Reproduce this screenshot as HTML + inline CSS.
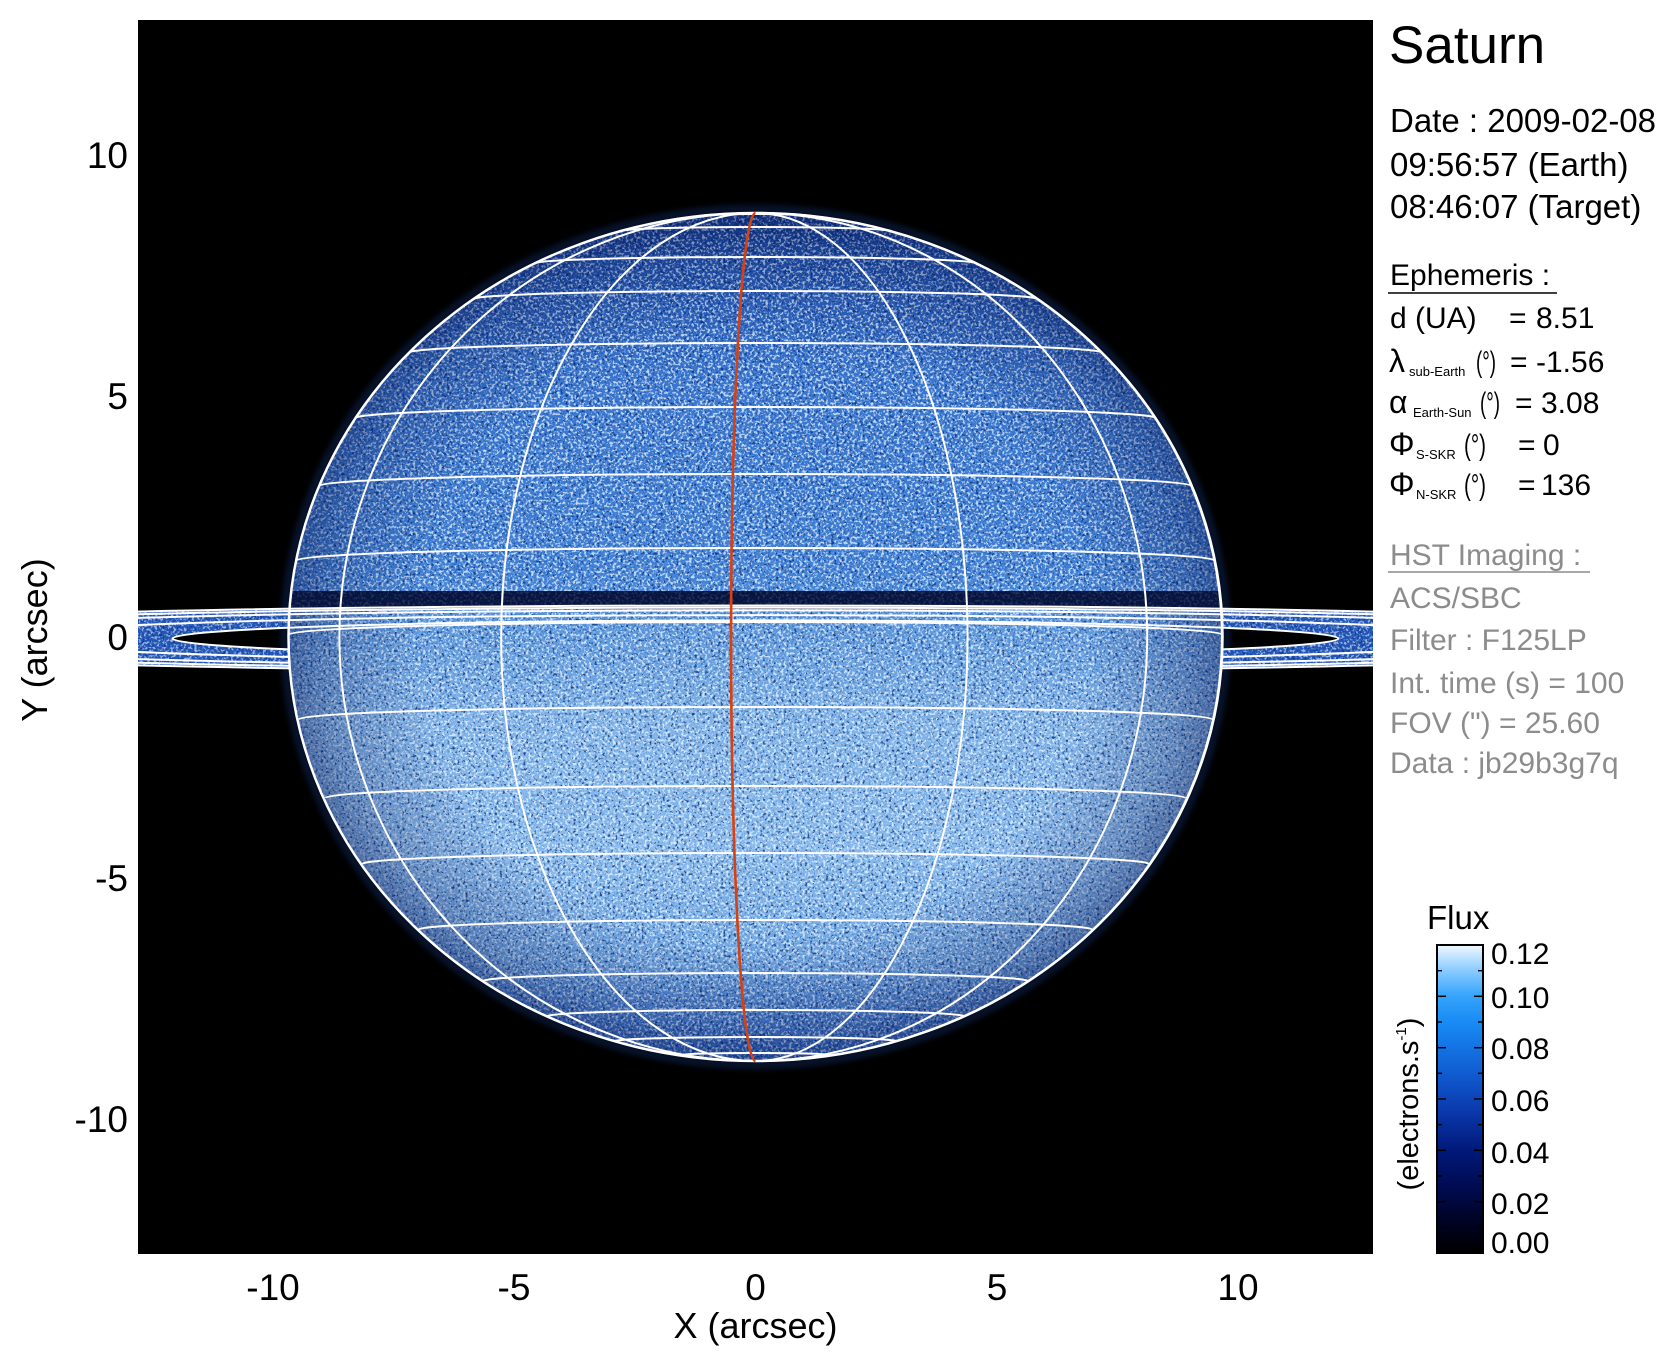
<!DOCTYPE html>
<html>
<head>
<meta charset="utf-8">
<style>
  html,body{margin:0;padding:0;background:#fff;}
  svg{display:block;}
  text{font-family:"Liberation Sans",Arial,sans-serif;}
</style>
</head>
<body>
<svg width="1676" height="1367" viewBox="0 0 1676 1367" xmlns="http://www.w3.org/2000/svg">
  <defs>
    <clipPath id="plot"><rect x="138" y="20" width="1235" height="1234"/></clipPath>
    <clipPath id="pc"><ellipse cx="755.5" cy="637" rx="467" ry="424"/></clipPath>
    <clipPath id="ringc">
      <path clip-rule="evenodd" d="M -308.5,638.5 A 1064,33 0 1 0 1819.5,638.5 A 1064,33 0 1 0 -308.5,638.5 Z M 172.5,638.5 A 583,18.1 0 1 0 1338.5,638.5 A 583,18.1 0 1 0 172.5,638.5 Z"/>
    </clipPath>
    <mask id="noplanet">
      <rect x="0" y="0" width="1676" height="1367" fill="#fff"/>
      <ellipse cx="755.5" cy="637" rx="467" ry="424" fill="#000"/>
    </mask>
    <linearGradient id="pgrad" x1="0" y1="0" x2="0" y2="1">
      <stop offset="0" stop-color="#163f95"/>
      <stop offset="0.06" stop-color="#2458b5"/>
      <stop offset="0.2" stop-color="#3876d0"/>
      <stop offset="0.42" stop-color="#3f80d6"/>
      <stop offset="0.5" stop-color="#5e99de"/>
      <stop offset="0.6" stop-color="#7eb2e9"/>
      <stop offset="0.75" stop-color="#86b9ed"/>
      <stop offset="0.88" stop-color="#6ea6e3"/>
      <stop offset="1" stop-color="#3068c4"/>
    </linearGradient>
    <radialGradient id="limb" cx="0.5" cy="0.5" r="0.5">
      <stop offset="0" stop-color="#001050" stop-opacity="0"/>
      <stop offset="0.72" stop-color="#001050" stop-opacity="0"/>
      <stop offset="0.93" stop-color="#001050" stop-opacity="0.28"/>
      <stop offset="1" stop-color="#001050" stop-opacity="0.45"/>
    </radialGradient>
    <linearGradient id="cbar" x1="0" y1="1" x2="0" y2="0">
      <stop offset="0" stop-color="#000000"/>
      <stop offset="0.1" stop-color="#000322"/>
      <stop offset="0.2" stop-color="#000a4c"/>
      <stop offset="0.33" stop-color="#001878"/>
      <stop offset="0.45" stop-color="#0a36a8"/>
      <stop offset="0.55" stop-color="#0f52c8"/>
      <stop offset="0.67" stop-color="#1474e4"/>
      <stop offset="0.76" stop-color="#1a8ef6"/>
      <stop offset="0.84" stop-color="#3aa6fc"/>
      <stop offset="0.92" stop-color="#8cccff"/>
      <stop offset="1" stop-color="#f2f8ff"/>
    </linearGradient>
    <filter id="spk" x="0%" y="0%" width="100%" height="100%" color-interpolation-filters="sRGB">
      <feTurbulence type="fractalNoise" baseFrequency="0.38" numOctaves="2" seed="7" result="n"/>
      <feColorMatrix in="n" type="matrix" values="0 0 0 0 0.92  0 0 0 0 0.97  0 0 0 0 1  6 0 0 0 -3.0" result="w"/>
      <feColorMatrix in="n" type="matrix" values="0 0 0 0 0.03  0 0 0 0 0.14  0 0 0 0 0.42  0 -6 0 0 2.65" result="d"/>
      <feMerge><feMergeNode in="d"/><feMergeNode in="w"/></feMerge>
    </filter>
    <filter id="blur3" x="-10%" y="-10%" width="120%" height="120%"><feGaussianBlur stdDeviation="3"/></filter>
  </defs>

  <!-- plot background -->
  <rect x="138" y="20" width="1235" height="1234" fill="#000"/>

  <g clip-path="url(#plot)">
    <!-- faint halo -->
    <ellipse cx="755.5" cy="637" rx="471" ry="428" fill="none" stroke="#1a46a0" stroke-width="8" opacity="0.3" filter="url(#blur3)"/>

    <!-- ring fill -->
    <g clip-path="url(#ringc)">
      <rect x="138" y="600" width="1235" height="80" fill="#2054b6"/>
      <rect x="138" y="600" width="1235" height="80" filter="url(#spk)" opacity="0.6"/>
    </g>

    <!-- planet -->
    <g clip-path="url(#pc)">
      <rect x="288" y="213" width="935" height="848" fill="url(#pgrad)"/>
      <rect x="288" y="213" width="935" height="848" filter="url(#spk)" opacity="0.75"/>
      <ellipse cx="755.5" cy="637" rx="467" ry="424" fill="url(#limb)"/>
      <!-- ring shadow band -->
      <rect x="280" y="591" width="950" height="18" fill="#061440"/>
      <rect x="280" y="591" width="950" height="18" filter="url(#spk)" opacity="0.12"/>
    </g>

    <!-- lower (hidden) halves of ring ellipses -->
    <g fill="none" stroke="#fff" stroke-width="2" mask="url(#noplanet)">
      <path d="M -308.5,638.5 A 1064,33 0 0 0 1819.5,638.5"/>
      <path d="M -241.5,638.5 A 997,30.9 0 0 0 1752.5,638.5"/>
      <path d="M -152.5,638.5 A 908,28.1 0 0 0 1663.5,638.5"/>
      <path d="M 1.5,638.5 A 754,23.4 0 0 0 1509.5,638.5"/>
      <path d="M 172.5,638.5 A 583,18.1 0 0 0 1338.5,638.5"/>
    </g>

    <!-- latitude lines -->
    <g fill="none" stroke="#fff" stroke-width="2">
      <path d="M 698.4,216.2 A 57.1,2.2 0 0 1 812.6,216.2"/>
      <path d="M 619.7,231.3 A 135.8,4.3 0 0 1 891.3,231.3"/>
      <path d="M 534.7,263.4 A 220.8,6.35 0 0 1 976.3,263.4"/>
      <path d="M 473.2,299.2 A 282.3,8.2 0 0 1 1037.8,299.2"/>
      <path d="M 409,352.7 A 346.5,9.7 0 0 1 1102,352.7"/>
      <path d="M 355.6,418 A 399.9,11 0 0 1 1155.4,418"/>
      <path d="M 319.2,485.9 A 436.3,11.9 0 0 1 1191.8,485.9"/>
      <path d="M 296.2,560.5 A 459.3,12.5 0 0 1 1214.8,560.5"/>
      <path d="M 288.5,634.7 A 467,12.7 0 0 1 1222.5,634.7"/>
      <path d="M 298.3,719.5 A 457.2,12.5 0 0 1 1212.7,719.5"/>
      <path d="M 325.7,797.9 A 429.8,11.9 0 0 1 1185.3,797.9"/>
      <path d="M 362.5,864 A 393,11 0 0 1 1148.5,864"/>
      <path d="M 418.7,929.7 A 336.8,9.7 0 0 1 1092.3,929.7"/>
      <path d="M 482.8,981.2 A 272.7,8.2 0 0 1 1028.2,981.2"/>
      <path d="M 547,1016.4 A 208.5,6.35 0 0 1 964,1016.4"/>
      <path d="M 614.8,1041.3 A 140.7,4.3 0 0 1 896.2,1041.3"/>
      <path d="M 678.5,1055.2 A 77,2.2 0 0 1 832.5,1055.2"/>
    </g>

    <!-- meridians -->
    <g fill="none" stroke="#fff" stroke-width="2">
      <path d="M 755.5,213 A 416.1,424 0 0 0 755.5,1061"/>
      <path d="M 755.5,213 A 254.3,424 0 0 0 755.5,1061"/>
      <path d="M 755.5,213 A 212,424 0 0 1 755.5,1061"/>
      <path d="M 755.5,213 A 391.7,424 0 0 1 755.5,1061"/>
      <path d="M 755.5,213 A 466.4,424 0 0 1 755.5,1061"/>
    </g>

    <!-- planet limb -->
    <ellipse cx="755.5" cy="637" rx="467" ry="424" fill="none" stroke="#fff" stroke-width="2.5"/>

    <!-- upper (front) halves of ring ellipses -->
    <g fill="none" stroke="#fff" stroke-width="2">
      <path d="M -308.5,638.5 A 1064,33 0 0 1 1819.5,638.5"/>
      <path d="M -241.5,638.5 A 997,30.9 0 0 1 1752.5,638.5"/>
      <path d="M -152.5,638.5 A 908,28.1 0 0 1 1663.5,638.5"/>
      <path d="M 1.5,638.5 A 754,23.4 0 0 1 1509.5,638.5"/>
      <path d="M 172.5,638.5 A 583,18.1 0 0 1 1338.5,638.5"/>
    </g>

    <!-- red meridian -->
    <path d="M 755.5,213 A 24.4,424 0 0 0 755.5,1061" fill="none" stroke="#d8400e" stroke-width="2.6"/>
  </g>

  <!-- axis tick labels -->
  <g font-size="37" fill="#000">
    <text x="128" y="168" text-anchor="end">10</text>
    <text x="128" y="409" text-anchor="end">5</text>
    <text x="128" y="650" text-anchor="end">0</text>
    <text x="128" y="891" text-anchor="end">-5</text>
    <text x="128" y="1132" text-anchor="end">-10</text>

    <text x="273" y="1300" text-anchor="middle">-10</text>
    <text x="514" y="1300" text-anchor="middle">-5</text>
    <text x="755.5" y="1300" text-anchor="middle">0</text>
    <text x="997" y="1300" text-anchor="middle">5</text>
    <text x="1238" y="1300" text-anchor="middle">10</text>
  </g>
  <text x="755.5" y="1338" text-anchor="middle" font-size="36">X (arcsec)</text>
  <text transform="translate(47,640) rotate(-90)" text-anchor="middle" font-size="36">Y (arcsec)</text>

  <!-- right panel -->
  <text x="1389" y="63" font-size="53">Saturn</text>
  <g font-size="33">
    <text x="1390" y="132">Date : 2009-02-08</text>
    <text x="1390" y="176">09:56:57 (Earth)</text>
    <text x="1390" y="218">08:46:07 (Target)</text>
  </g>

  <g font-size="30" fill="#000">
    <text x="1390" y="285">Ephemeris :</text>
    <line x1="1388" y1="293" x2="1557" y2="293" stroke="#000" stroke-width="1.5"/>

    <text x="1390" y="328">d (UA)</text>
    <text x="1509" y="328">=</text>
    <text x="1536" y="328">8.51</text>

    <text x="1389" y="372" font-size="32">λ</text>
    <text x="1409" y="376" font-size="13">sub-Earth</text>
    <text x="1476" y="372" textLength="20" lengthAdjust="spacingAndGlyphs">(°)</text>
    <text x="1510" y="372">=</text>
    <text x="1536" y="372">-1.56</text>

    <text x="1389" y="413" font-size="32">α</text>
    <text x="1413" y="417" font-size="13">Earth-Sun</text>
    <text x="1480" y="413" textLength="20" lengthAdjust="spacingAndGlyphs">(°)</text>
    <text x="1515" y="413">=</text>
    <text x="1541" y="413">3.08</text>

    <text x="1389" y="455" font-size="32">Φ</text>
    <text x="1416" y="459" font-size="13">S-SKR</text>
    <text x="1464" y="455" textLength="22" lengthAdjust="spacingAndGlyphs">(°)</text>
    <text x="1518" y="455">=</text>
    <text x="1543" y="455">0</text>

    <text x="1389" y="495" font-size="32">Φ</text>
    <text x="1416" y="499" font-size="13">N-SKR</text>
    <text x="1464" y="495" textLength="22" lengthAdjust="spacingAndGlyphs">(°)</text>
    <text x="1518" y="495">=</text>
    <text x="1541" y="495">136</text>
  </g>

  <g font-size="30" fill="#8c8c8c">
    <text x="1390" y="565">HST Imaging :</text>
    <line x1="1388" y1="572" x2="1590" y2="572" stroke="#8c8c8c" stroke-width="1.5"/>
    <text x="1390" y="608">ACS/SBC</text>
    <text x="1390" y="650">Filter : F125LP</text>
    <text x="1390" y="693">Int. time (s) = 100</text>
    <text x="1390" y="733">FOV (") = 25.60</text>
    <text x="1390" y="773">Data : jb29b3g7q</text>
  </g>

  <!-- colorbar -->
  <text x="1427" y="929" font-size="33">Flux</text>
  <rect x="1437" y="945" width="46" height="308" fill="url(#cbar)" stroke="#000" stroke-width="2"/>
  <g stroke="#000" stroke-width="1.5">
    <line x1="1437" y1="1201.7" x2="1446" y2="1201.7"/><line x1="1483" y1="1201.7" x2="1474" y2="1201.7"/>
    <line x1="1437" y1="1150.3" x2="1446" y2="1150.3"/><line x1="1483" y1="1150.3" x2="1474" y2="1150.3"/>
    <line x1="1437" y1="1099" x2="1446" y2="1099"/><line x1="1483" y1="1099" x2="1474" y2="1099"/>
    <line x1="1437" y1="1047.7" x2="1446" y2="1047.7"/><line x1="1483" y1="1047.7" x2="1474" y2="1047.7"/>
    <line x1="1437" y1="996.3" x2="1446" y2="996.3"/><line x1="1483" y1="996.3" x2="1474" y2="996.3"/>
    <line x1="1437" y1="1227.3" x2="1442" y2="1227.3"/><line x1="1483" y1="1227.3" x2="1478" y2="1227.3"/>
    <line x1="1437" y1="1176" x2="1442" y2="1176"/><line x1="1483" y1="1176" x2="1478" y2="1176"/>
    <line x1="1437" y1="1124.7" x2="1442" y2="1124.7"/><line x1="1483" y1="1124.7" x2="1478" y2="1124.7"/>
    <line x1="1437" y1="1073.3" x2="1442" y2="1073.3"/><line x1="1483" y1="1073.3" x2="1478" y2="1073.3"/>
    <line x1="1437" y1="1022" x2="1442" y2="1022"/><line x1="1483" y1="1022" x2="1478" y2="1022"/>
    <line x1="1437" y1="970.7" x2="1442" y2="970.7"/><line x1="1483" y1="970.7" x2="1478" y2="970.7"/>
  </g>
  <g font-size="30">
    <text x="1491" y="964">0.12</text>
    <text x="1491" y="1008">0.10</text>
    <text x="1491" y="1059">0.08</text>
    <text x="1491" y="1111">0.06</text>
    <text x="1491" y="1163">0.04</text>
    <text x="1491" y="1214">0.02</text>
    <text x="1491" y="1253">0.00</text>
  </g>
  <text transform="translate(1418,1104) rotate(-90)" text-anchor="middle" font-size="29">(electrons.s<tspan font-size="15" dy="-12">-1</tspan><tspan dy="12">)</tspan></text>
</svg>
</body>
</html>
